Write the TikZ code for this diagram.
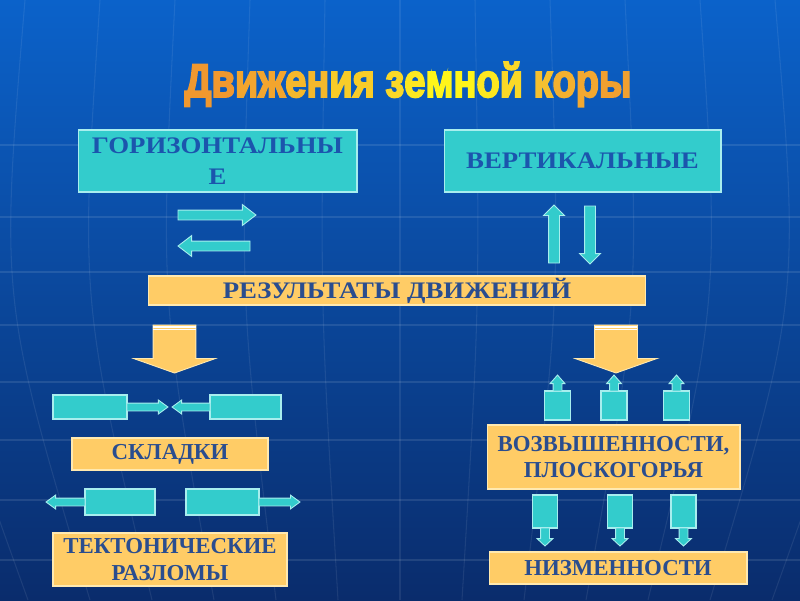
\documentclass[tikz,border=0pt]{standalone}
\usepackage{fontspec}
\setmainfont{Liberation Serif}
\newfontfamily\widefont{Liberation Serif}[FakeStretch=1.13]
\newfontfamily\titlefont{Liberation Sans}[FakeBold=4]
\usepackage{xcolor}
\usetikzlibrary{shapes.arrows}

\definecolor{bgtop}{HTML}{0B62CA}
\definecolor{bgmid}{HTML}{0A479F}
\definecolor{bgbot}{HTML}{0A2C6C}
\definecolor{tealfill}{HTML}{33CCCC}
\definecolor{tealline}{HTML}{A8EEEE}
\definecolor{tealtext}{HTML}{1B55AD}
\definecolor{goldfill}{HTML}{FFCC66}
\definecolor{goldline}{HTML}{FFE9B0}
\definecolor{goldtext}{HTML}{2A4D8F}

\newcommand{\boxfont}{\bfseries\fontsize{13}{15}\selectfont}
\newcommand{\bigboxfont}{\widefont\bfseries\fontsize{13.5}{15}\selectfont}
\newcommand{\tc}[2]{\textcolor[HTML]{#1}{#2}}
\newcommand{\titletext}{%
  \tc{F0982F}{Дв}\tc{F2A52E}{иж}\tc{F5B82C}{ен}\tc{F8CC28}{ия} %
  \tc{F9D828}{з}\tc{FCE820}{е}\tc{FFF51A}{мн}\tc{FCE820}{о}\tc{F9D828}{й} %
  \tc{F5C030}{к}\tc{F3B030}{о}\tc{F2A830}{р}\tc{F0A030}{ы}}

\begin{document}
\begin{tikzpicture}[x=0.02cm, y=-0.02cm,
  tealbox/.style={rectangle, draw=tealline, fill=tealfill, line width=0.6pt, outer sep=0pt, inner sep=0pt, align=center, text=tealtext, font=\bigboxfont},
  goldbox/.style={rectangle, draw=goldline, fill=goldfill, line width=0.6pt, outer sep=0pt, inner sep=0pt, align=center, text=goldtext, font=\boxfont},
  block/.style={rectangle, draw=tealline, fill=tealfill, line width=0.6pt, outer sep=0pt, inner sep=0pt},
  blockarrow/.style n args={5}{single arrow, draw=tealline, fill=tealfill, line width=0.5pt, outer sep=0pt, inner xsep=0pt, minimum height=#1, inner ysep=#2, minimum width=#3, single arrow head extend=#4, single arrow tip angle=#5, anchor=tail},
  goldarrow/.style={single arrow, draw=goldline, fill=goldfill, line width=0.5pt, outer sep=0pt, inner xsep=0pt, minimum height=0.96cm, inner ysep=0.42cm, minimum width=1.62cm, single arrow head extend=0.39cm, single arrow tip angle=141, anchor=tail, rotate=-90}
]
  \useasboundingbox (0,0) rectangle (800,600);
  % background with faint globe grid
  \shade[top color=bgtop, middle color=bgmid, bottom color=bgbot] (0,0) rectangle (800,600);
  \foreach \gy in {145,217,272,325,382,440,500,560}
    \draw[white, opacity=0.1, line width=0.6pt] (0,\gy) -- (800,\gy);
  \foreach \k in {-6,...,6}
    \draw[white, opacity=0.08, line width=0.6pt] (400+\k*75,0) .. controls (400+\k*80,300) .. (400+\k*62,600);

  % title
  \node[anchor=base] (title) at (408,97) {\resizebox{8.94cm}{0.70cm}{\titlefont\bfseries\titletext}};

  % kinds of movement
  \node[tealbox, minimum width=5.58cm, minimum height=1.24cm] (horiz) at (217.5,161) {ГОРИЗОНТАЛЬНЫ\\[3pt]Е};
  \node[tealbox, minimum width=5.54cm, minimum height=1.24cm] (vert) at (582.5,161) {ВЕРТИКАЛЬНЫЕ};

  \node[blockarrow={1.56cm}{0.09cm}{0.4cm}{0.11cm}{75}] (hright) at (178,215) {};
  \node[blockarrow={1.44cm}{0.09cm}{0.4cm}{0.11cm}{75}, rotate=180] (hleft) at (250,246) {};
  \node[blockarrow={1.16cm}{0.1cm}{0.4cm}{0.1cm}{90}, rotate=90] (vup) at (554,263) {};
  \node[blockarrow={1.16cm}{0.1cm}{0.4cm}{0.1cm}{90}, rotate=-90] (vdown) at (590,206) {};

  % results
  \node[goldbox, font=\bigboxfont, minimum width=9.96cm, minimum height=0.58cm] (results) at (397,290.5) {РЕЗУЛЬТАТЫ ДВИЖЕНИЙ};
  \node[goldarrow] (resleft) at (174.5,325) {};
  \node[goldarrow] (resright) at (616,325) {};
  \foreach \a in {resleft,resright}
    \foreach \d in {1.8,4.2}
      \draw[white, line width=0.8pt] ([yshift=-\d*0.02cm]\a.before tail) -- ([yshift=-\d*0.02cm]\a.after tail);

  % left branch
  \node[block, minimum width=1.48cm, minimum height=0.48cm] (fold1) at (90,407) {};
  \node[block, minimum width=1.42cm, minimum height=0.48cm] (fold2) at (245.5,407) {};
  \node[blockarrow={0.82cm}{0.07cm}{0.26cm}{0.06cm}{72}] (push1) at (fold1.east) {};
  \node[blockarrow={0.76cm}{0.07cm}{0.26cm}{0.06cm}{72}, rotate=180] (push2) at (fold2.west) {};
  \node[goldbox, minimum width=3.92cm, minimum height=0.64cm] (folds) at (170,454) {СКЛАДКИ};

  \node[block, minimum width=1.4cm, minimum height=0.52cm] (fault1) at (120,502) {};
  \node[block, minimum width=1.46cm, minimum height=0.52cm] (fault2) at (222.5,502) {};
  \node[blockarrow={0.78cm}{0.07cm}{0.26cm}{0.06cm}{72}, rotate=180] (pull1) at (fault1.west) {};
  \node[blockarrow={0.82cm}{0.07cm}{0.26cm}{0.06cm}{72}] (pull2) at (fault2.east) {};
  \node[goldbox, minimum width=4.68cm, minimum height=1.06cm] (faults) at (170,559.5) {ТЕКТОНИЧЕСКИЕ\\РАЗЛОМЫ};

  % right branch
  \node[block, minimum width=0.52cm, minimum height=0.58cm] (rise1) at (557.5,405.5) {};
  \node[block, minimum width=0.52cm, minimum height=0.58cm] (rise2) at (614,405.5) {};
  \node[block, minimum width=0.52cm, minimum height=0.58cm] (rise3) at (676.5,405.5) {};
  \node[blockarrow={0.32cm}{0.08cm}{0.28cm}{0.06cm}{82}, rotate=90] (up1) at (rise1.north) {};
  \node[blockarrow={0.32cm}{0.08cm}{0.28cm}{0.06cm}{82}, rotate=90] (up2) at (rise2.north) {};
  \node[blockarrow={0.32cm}{0.08cm}{0.28cm}{0.06cm}{82}, rotate=90] (up3) at (rise3.north) {};
  \node[goldbox, minimum width=5.06cm, minimum height=1.28cm] (uplands) at (613.5,457) {ВОЗВЫШЕННОСТИ,\\ПЛОСКОГОРЬЯ};

  \node[block, minimum width=0.5cm, minimum height=0.66cm] (sink1) at (545,511.5) {};
  \node[block, minimum width=0.5cm, minimum height=0.66cm] (sink2) at (620,511.5) {};
  \node[block, minimum width=0.5cm, minimum height=0.66cm] (sink3) at (683.5,511.5) {};
  \node[blockarrow={0.36cm}{0.08cm}{0.3cm}{0.07cm}{94}, rotate=-90] (down1) at (sink1.south) {};
  \node[blockarrow={0.36cm}{0.08cm}{0.3cm}{0.07cm}{94}, rotate=-90] (down2) at (sink2.south) {};
  \node[blockarrow={0.36cm}{0.08cm}{0.3cm}{0.07cm}{94}, rotate=-90] (down3) at (sink3.south) {};
  \node[goldbox, minimum width=5.16cm, minimum height=0.64cm] (lowlands) at (618,568) {НИЗМЕННОСТИ};
\end{tikzpicture}
\end{document}
